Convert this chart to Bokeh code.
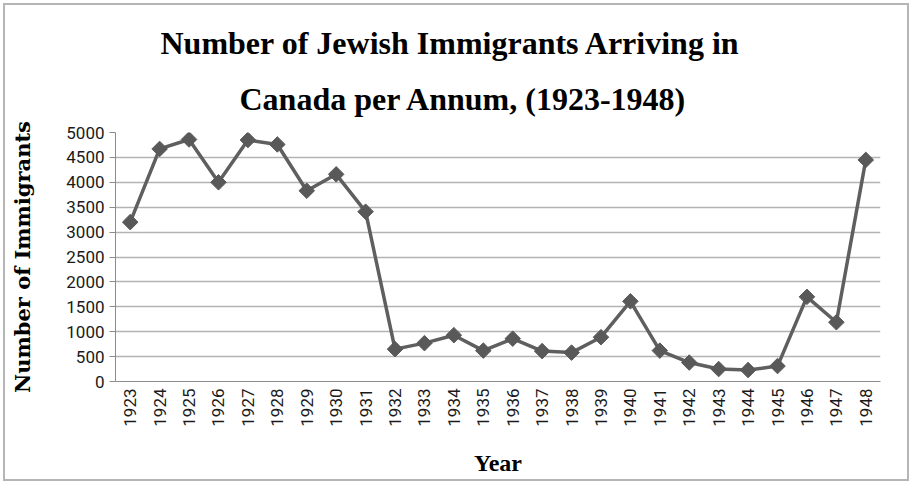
import math
from bokeh.plotting import figure
from bokeh.models import FactorRange, Range1d, FixedTicker, Title, ColumnDataSource
from bokeh.embed import file_html
from bokeh.resources import INLINE

years = ["1923", "1924", "1925", "1926", "1927", "1928", "1929", "1930", "1931",
         "1932", "1933", "1934", "1935", "1936", "1937", "1938", "1939", "1940",
         "1941", "1942", "1943", "1944", "1945", "1946", "1947", "1948"]
immigrants = [3200, 4670, 4860, 4000, 4850, 4760, 3830, 4160, 3410,
              650, 770, 930, 620, 860, 610, 580, 890, 1610,
              620, 380, 250, 230, 310, 1700, 1190, 4450]
y_ticks = [0, 500, 1000, 1500, 2000, 2500, 3000, 3500, 4000, 4500, 5000]

title_line1 = "Number of Jewish Immigrants Arriving in"
title_line2 = "Canada per Annum, (1923-1948)"
x_title = "Year"
y_title = "Number of Immigrants"

src = ColumnDataSource(dict(year=years, n=immigrants))

p = figure(width=912, height=484, x_range=FactorRange(factors=years),
           y_range=Range1d(0, 5000), output_backend="svg", toolbar_location=None,
           title=None,
           min_border_left=115, min_border_right=32, min_border_top=132,
           min_border_bottom=103,
           styles={"box-shadow": "inset 0 0 0 3px white, inset 0 0 0 5px #b5b5b5",
                   "background-color": "white"})

p.outline_line_color = None
p.background_fill_color = "white"
p.border_fill_color = None

line_col = "#5f5f5f"
p.line("year", "n", source=src, line_color=line_col, line_width=3.5)
p.scatter("year", "n", source=src, marker="square", angle=math.pi / 4, size=11,
          fill_color="#595959", line_color="#595959")

p.xgrid.grid_line_color = None
p.ygrid.grid_line_color = "#b3b3b3"
p.ygrid.grid_line_width = 1.3

tick_font = "Roboto"
p.yaxis.ticker = FixedTicker(ticks=y_ticks)
p.yaxis.axis_line_color = "#8c8c8c"
p.yaxis.major_tick_line_color = "#8c8c8c"
p.yaxis.major_tick_out = 6
p.yaxis.major_tick_in = 0
p.yaxis.minor_tick_line_color = None
p.yaxis.major_label_standoff = 5
p.yaxis.major_label_text_font = tick_font
p.yaxis.major_label_text_font_size = "17px"
p.yaxis.major_label_text_color = "#1a1a1a"
p.yaxis.axis_label = y_title
p.yaxis.axis_label_text_font = "DejaVu Serif"
p.yaxis.axis_label_text_font_style = "bold"
p.yaxis.axis_label_text_font_size = "21px"
p.yaxis.axis_label_text_color = "#000000"
p.yaxis.axis_label_standoff = 28

p.xaxis.axis_line_color = "#8c8c8c"
p.xaxis.major_tick_line_color = None
p.xaxis.major_tick_out = 0
p.xaxis.major_tick_in = 0
p.xaxis.major_label_orientation = math.pi / 2
p.xaxis.major_label_standoff = 7
p.xaxis.major_label_text_font = tick_font
p.xaxis.major_label_text_font_size = "17px"
p.xaxis.major_label_text_color = "#1a1a1a"
p.xaxis.axis_label = x_title
p.xaxis.axis_label_text_font = "Liberation Serif"
p.xaxis.axis_label_text_font_style = "bold"
p.xaxis.axis_label_text_font_size = "24px"
p.xaxis.axis_label_text_color = "#000000"
p.xaxis.axis_label_standoff = 20

serif = "Liberation Serif"
p.add_layout(Title(text=title_line2, align="left", offset=124, standoff=32,
                   text_font=serif, text_font_style="bold", text_font_size="32px",
                   text_color="#000000"), "above")
p.add_layout(Title(text=title_line1, align="left", offset=45, standoff=4,
                   text_font=serif, text_font_style="bold", text_font_size="32px",
                   text_color="#000000"), "above")

open("out.html", "w").write(file_html(p, INLINE))
